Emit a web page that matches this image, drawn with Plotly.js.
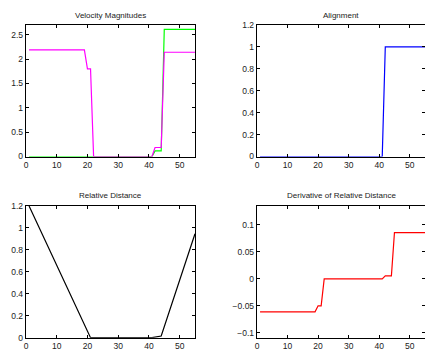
<!DOCTYPE html>
<html>
<head>
<meta charset="utf-8">
<script src="https://cdn.plot.ly/plotly-3.0.1.min.js"></script>
<style>html,body{margin:0;padding:0;overflow:hidden;background:#fff}#chart{width:425px;height:360px}</style>
</head>
<body>
<div id="chart"></div>
<script>
// Velocity Magnitudes (breakpoints)
const velGreenX = [1, 41, 42, 44, 45, 55];
const velGreenY = [0, 0, 0.115, 0.115, 2.61, 2.61];
const velMagentaX = [1, 19, 20, 21, 22, 41, 42, 44, 45, 55];
const velMagentaY = [2.19, 2.19, 1.8, 1.8, 0, 0, 0.185, 0.185, 2.14, 2.14];
// Alignment
const alignX = [1, 41, 42, 55];
const alignY = [0, 0, 1, 1];
// Relative Distance
const distX = [1, 21, 41, 44, 55];
const distY = [1.2, 0, 0, 0.015, 0.947];
// Derivative of Relative Distance
const derivX = [1, 19, 20, 21, 22, 41, 42, 44, 45, 55];
const derivY = [-0.061, -0.061, -0.05, -0.05, 0, 0, 0.0055, 0.0055, 0.0855, 0.0855];

const titles = ["Velocity Magnitudes", "Alignment", "Relative Distance", "Derivative of Relative Distance"];
const xTicks = [0, 10, 20, 30, 40, 50];
const velTicks = [0, 0.5, 1, 1.5, 2, 2.5];
const unitTicks = [0, 0.2, 0.4, 0.6, 0.8, 1, 1.2];
const derivTicks = [-0.1, -0.05, 0, 0.05, 0.1];

const W = 425, H = 360;
const colL = [26 / W, 195 / W], colR = [257 / W, 1];
const rowT = [1 - 156.5 / H, 1 - 25 / H], rowB = [1 - 337.7 / H, 1 - 206 / H];

const tickFont = {family: "Liberation Sans, Arial, sans-serif", size: 8.5, color: "#222"};
function ax(domain, anchor, range, tickvals) {
  return {
    domain: domain, anchor: anchor, range: range, tickvals: tickvals,
    showgrid: false, zeroline: false, showline: true, linecolor: "#000", linewidth: 1.2,
    mirror: "ticks", ticks: "inside", ticklen: 3, tickwidth: 1, tickcolor: "#000",
    tickfont: tickFont, fixedrange: true
  };
}

const lw = 1.2;
const traces = [
  {x: velGreenX, y: velGreenY, xaxis: "x", yaxis: "y", mode: "lines", line: {color: "#00ff00", width: lw}},
  {x: velMagentaX, y: velMagentaY, xaxis: "x", yaxis: "y", mode: "lines", line: {color: "#ff00ff", width: lw}},
  {x: alignX, y: alignY, xaxis: "x2", yaxis: "y2", mode: "lines", line: {color: "#0000ff", width: lw}},
  {x: distX, y: distY, xaxis: "x3", yaxis: "y3", mode: "lines", line: {color: "#000000", width: lw}},
  {x: derivX, y: derivY, xaxis: "x4", yaxis: "y4", mode: "lines", line: {color: "#ff0000", width: lw}}
];

const titleFont = {family: "Liberation Sans, Arial, sans-serif", size: 8, color: "#222"};
function ann(text, dom, yPix) {
  return {text: text, xref: "paper", yref: "paper", x: (dom[0] + dom[1]) / 2, y: 1 - yPix / H,
          xanchor: "center", yanchor: "middle", showarrow: false, font: titleFont};
}

const layout = {
  width: W, height: H, showlegend: false,
  margin: {l: 0, r: 0, t: 0, b: 0},
  paper_bgcolor: "#fff", plot_bgcolor: "#fff",
  xaxis: ax(colL, "y", [0, 55], xTicks),
  yaxis: ax(rowT, "x", [0, 2.7], velTicks),
  xaxis2: ax(colR, "y2", [0, 55], xTicks),
  yaxis2: ax(rowT, "x2", [0, 1.2], unitTicks),
  xaxis3: ax(colL, "y3", [0, 55], xTicks),
  yaxis3: ax(rowB, "x3", [0, 1.2], unitTicks),
  xaxis4: ax(colR, "y4", [0, 55], xTicks),
  yaxis4: ax(rowB, "x4", [-0.109, 0.135], derivTicks),
  annotations: [
    ann(titles[0], colL, 15.5), ann(titles[1], colR, 15.5),
    ann(titles[2], colL, 196), ann(titles[3], colR, 196)
  ]
};

Plotly.newPlot("chart", traces, layout, {displayModeBar: false, staticPlot: true});
</script>
</body>
</html>
